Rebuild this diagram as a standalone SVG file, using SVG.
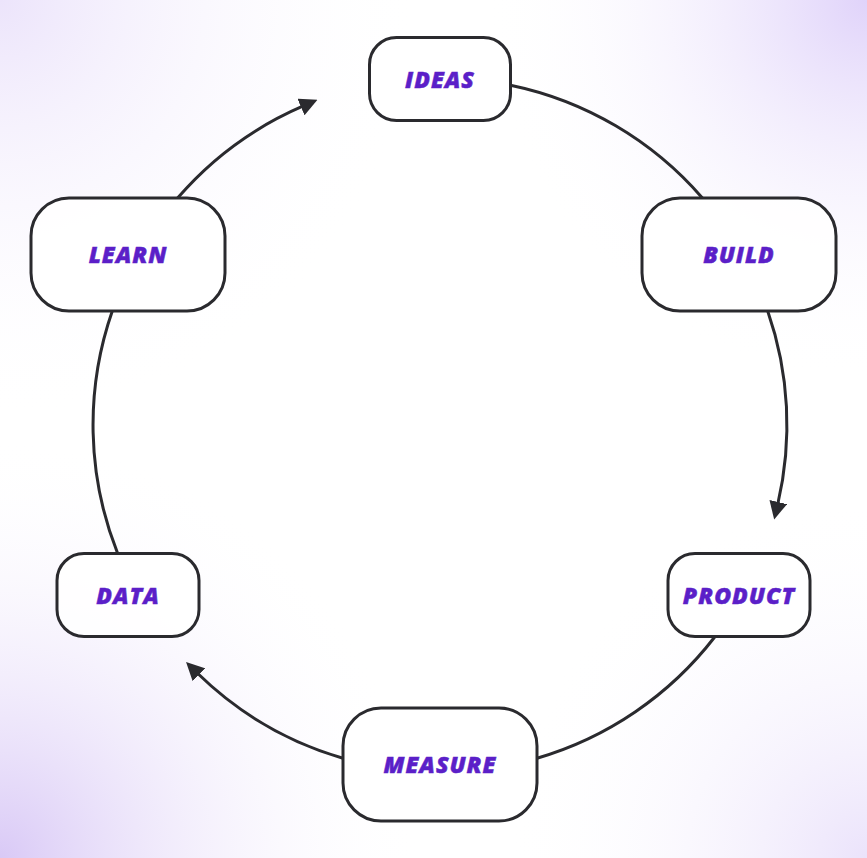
<svg xmlns="http://www.w3.org/2000/svg" width="867" height="858" viewBox="0 0 867 858">
<defs>
<radialGradient id="gTL" cx="0" cy="0" r="420" gradientUnits="userSpaceOnUse"><stop offset="0" stop-color="#ece4fb"/><stop offset="1" stop-color="#ffffff" stop-opacity="0"/></radialGradient>
<radialGradient id="gTR" cx="867" cy="0" r="380" gradientUnits="userSpaceOnUse"><stop offset="0" stop-color="#e0d3fa"/><stop offset="1" stop-color="#ffffff" stop-opacity="0"/></radialGradient>
<radialGradient id="gBL" cx="0" cy="858" r="420" gradientUnits="userSpaceOnUse"><stop offset="0" stop-color="#d9c9f6"/><stop offset="1" stop-color="#ffffff" stop-opacity="0"/></radialGradient>
<radialGradient id="gBR" cx="867" cy="858" r="360" gradientUnits="userSpaceOnUse"><stop offset="0" stop-color="#ebe3fb"/><stop offset="1" stop-color="#ffffff" stop-opacity="0"/></radialGradient>
<marker id="arr" viewBox="0 0 18 18" refX="2" refY="9" markerWidth="18" markerHeight="18" markerUnits="userSpaceOnUse" orient="auto"><path d="M0,0 L18,9 L0,18 z" fill="#2a2a2e"/></marker>
</defs>
<style>
.edge{fill:none;stroke:#2a2a2e;stroke-width:3}
.node rect{fill:#ffffff;fill-opacity:0.85;stroke:#2a2a2e;stroke-width:3}
.node text{font-family:"Open Sans",Lato,"Liberation Sans",sans-serif;font-weight:800;font-style:italic;font-size:23px;letter-spacing:1px;fill:#5b1fc8;text-anchor:middle;stroke:#5b1fc8;stroke-width:0.5}
</style>
<rect width="867" height="858" fill="#ffffff"/>
<rect width="867" height="858" fill="url(#gTL)"/>
<rect width="867" height="858" fill="url(#gTR)"/>
<rect width="867" height="858" fill="url(#gBL)"/>
<rect width="867" height="858" fill="url(#gBR)"/>
<g id="connectors">
<path class="edge" d="M510.5,85.2 A347,347 0 0 1 702.4,198"/>
<path class="edge" d="M767.7,311 A347,347 0 0 1 777.8,504" marker-end="url(#arr)"/>
<path class="edge" d="M714.7,637 A347,347 0 0 1 537,758.2"/>
<path class="edge" d="M343,758.2 A347,347 0 0 1 197.5,673.3" marker-end="url(#arr)"/>
<path class="edge" d="M117.5,553 A347,347 0 0 1 112.3,311"/>
<path class="edge" d="M177.6,198 A347,347 0 0 1 302.8,106.2" marker-end="url(#arr)"/>
</g>
<g id="ideas" class="node"><rect x="369.5" y="37.5" width="141" height="83" rx="27"/><text x="440" y="87.5">IDEAS</text></g>
<g id="build" class="node"><rect x="642" y="198" width="194" height="113" rx="38"/><text x="739" y="262.5">BUILD</text></g>
<g id="product" class="node"><rect x="668" y="553.5" width="142" height="83" rx="27"/><text x="739" y="603.5">PRODUCT</text></g>
<g id="measure" class="node"><rect x="343" y="708" width="194" height="113" rx="38"/><text x="440" y="772.5">MEASURE</text></g>
<g id="data" class="node"><rect x="57" y="553.5" width="142" height="83" rx="27"/><text x="128" y="603.5">DATA</text></g>
<g id="learn" class="node"><rect x="31" y="198" width="194" height="113" rx="38"/><text x="128" y="262.5">LEARN</text></g>
</svg>
